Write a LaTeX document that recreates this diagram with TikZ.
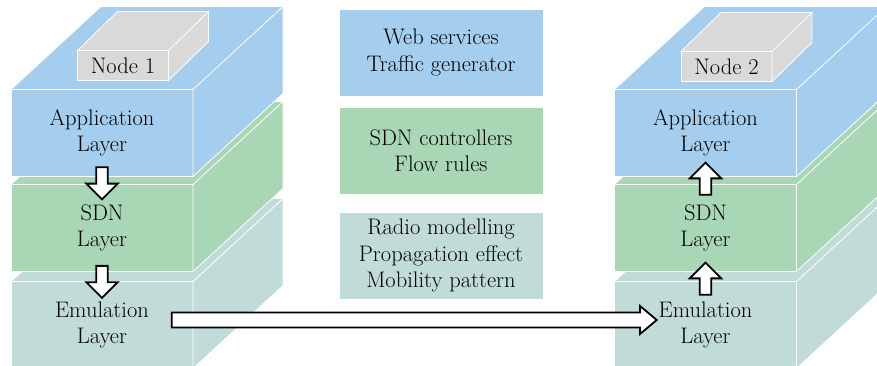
\documentclass[tikz,border=0pt]{standalone}
\usetikzlibrary{shapes.arrows, positioning, calc}
\definecolor{appblue}{HTML}{A4CDEE}
\definecolor{sdngreen}{HTML}{A9D6B5}
\definecolor{emuteal}{HTML}{C0DBD8}
\definecolor{nodegray}{HTML}{D9D9D9}
\tikzset{
    layer/.style={
        rectangle,
        draw=white,
        line width=0.8pt,
        minimum width=182pt,
        minimum height=87pt,
        inner sep=0pt,
        outer sep=0pt,
        align=center,
        font=\rmfamily\fontsize{22.5}{26.5}\selectfont
    },
    face/.style={
        draw=white,
        line width=0.8pt
    },
    info/.style={
        rectangle,
        draw=white,
        line width=0.8pt,
        minimum width=204pt,
        minimum height=87pt,
        inner sep=0pt,
        outer sep=0pt,
        align=center,
        font=\rmfamily\fontsize{22.5}{26.5}\selectfont
    },
    hostbox/.style={
        rectangle,
        draw=white,
        line width=0.8pt,
        fill=nodegray,
        minimum width=91pt,
        minimum height=30pt,
        inner sep=0pt,
        outer sep=0pt,
        font=\rmfamily\fontsize{22.5}{26.5}\selectfont
    },
    blockarrow/.style={
        single arrow,
        draw=black,
        line width=1.8pt,
        fill=white,
        inner sep=4.8pt,
        single arrow head extend=10pt,
        single arrow tip angle=90,
        minimum height=32pt
    },
    linkarrow/.style={
        blockarrow,
        inner sep=6.6pt,
        single arrow head extend=6.5pt,
        single arrow tip angle=80
    }
}
% top and right face of a box drawn from its front node
\newcommand{\boxfaces}[3]{%
    \filldraw[face, fill=#2] (#1.north west) -- ([shift={#3}]#1.north west)
        -- ([shift={#3}]#1.north east) -- ([shift={#3}]#1.south east)
        -- (#1.south east) -- (#1.north east) -- cycle;
    \draw[face] (#1.north east) -- ([shift={#3}]#1.north east);
}

\begin{document}
\begin{tikzpicture}[x=1pt, y=-1pt, node distance=10pt]

\useasboundingbox (0,0) rectangle (877,366);
\clip (0,0) rectangle (877,366);

% Left stack: Node 1
\node[layer, fill=emuteal] (emu1) at (102,325) {Emulation\\Layer};
\boxfaces{emu1}{emuteal}{(90,-83)}
\node[layer, fill=sdngreen, above=10pt of emu1] (sdn1) {SDN\\Layer};
\boxfaces{sdn1}{sdngreen}{(90,-83)}
\node[layer, fill=appblue, above=8pt of sdn1] (app1) {Application\\Layer};
\boxfaces{app1}{appblue}{(90,-83)}
\node[hostbox] (host1) at (123,65.5) {Node 1};
\boxfaces{host1}{nodegray}{(40,-39)}

% Right stack: Node 2
\node[layer, fill=emuteal] (emu2) at (705.5,325) {Emulation\\Layer};
\boxfaces{emu2}{emuteal}{(90,-83)}
\node[layer, fill=sdngreen, above=10pt of emu2] (sdn2) {SDN\\Layer};
\boxfaces{sdn2}{sdngreen}{(90,-83)}
\node[layer, fill=appblue, above=8pt of sdn2] (app2) {Application\\Layer};
\boxfaces{app2}{appblue}{(90,-83)}
\node[hostbox] (host2) at (726.5,66.5) {Node 2};
\boxfaces{host2}{nodegray}{(40,-39)}

% Middle: what each layer holds
\node[info, fill=appblue] (web) at (441,52.5) {Web services\\Traffic generator};
\node[info, fill=sdngreen, below=11pt of web] (ctl) {SDN controllers\\Flow rules};
\node[info, fill=emuteal, below=18pt of ctl] (radio) {Radio modelling\\Propagation effect\\Mobility pattern};

% Flow down, across and up
\node[blockarrow, rotate=-90] (down1) at ($(app1.south)!0.5!(sdn1.north)$) {};
\node[blockarrow, rotate=-90] (down2) at ($(sdn1.south)!0.5!(emu1.north)+(0,2.5)$) {};
\node[linkarrow, minimum height=485pt] (link) at ($(emu1)!0.5!(emu2)+(6,-5)$) {};
\node[blockarrow, rotate=90] (up1) at ($(app2.south)!0.5!(sdn2.north)+(0,1)$) {};
\node[blockarrow, rotate=90] (up2) at ($(sdn2.south)!0.5!(emu2.north)+(0,5)$) {};

\end{tikzpicture}
\end{document}
